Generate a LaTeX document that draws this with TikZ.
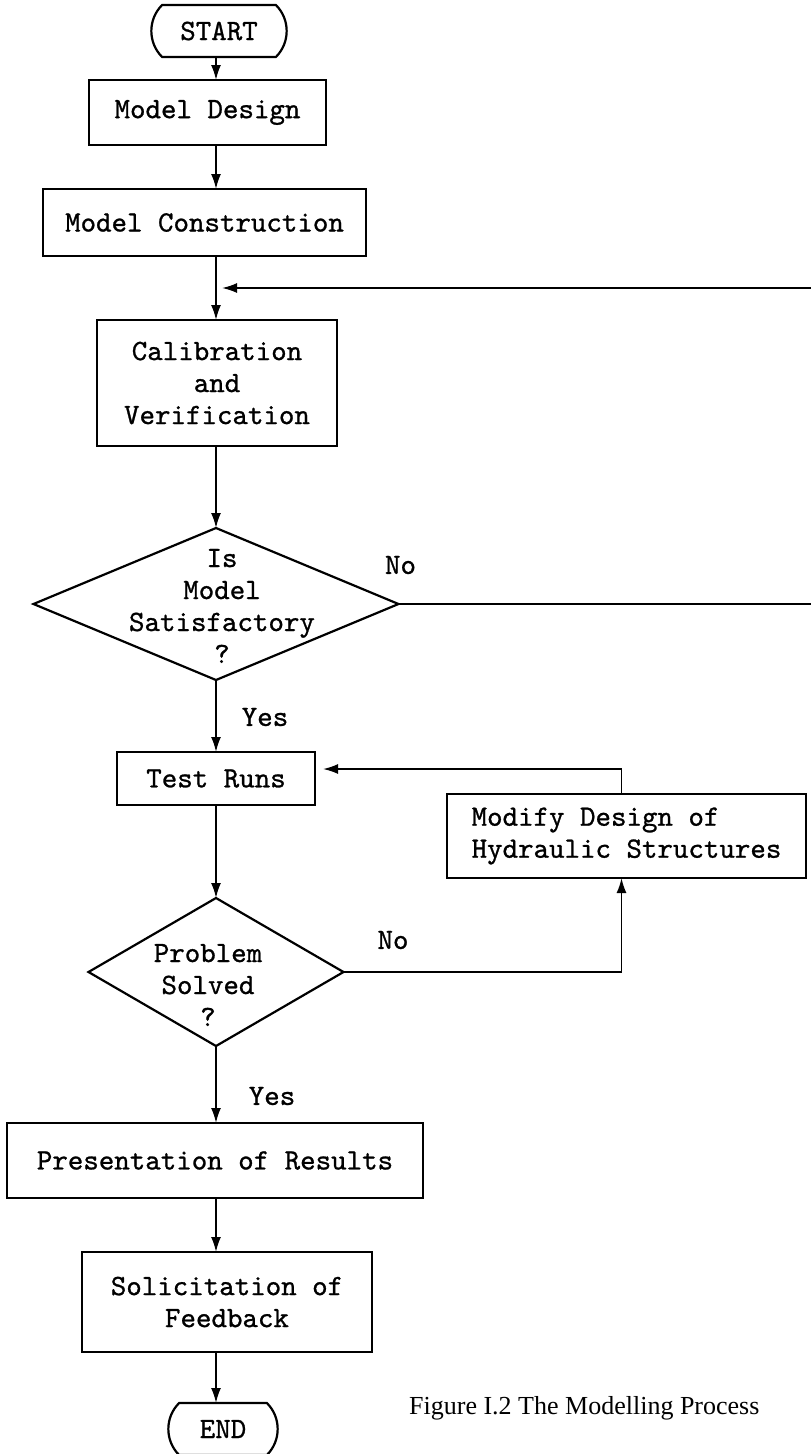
\documentclass[tikz,border=0pt]{standalone}
\usepackage{fontspec}
\usetikzlibrary{positioning,shapes.geometric,shapes.misc,arrows.meta}
\newfontfamily\captionserif{Liberation Serif}
\newfontfamily\flowtt{lmmono10-regular.otf}[FakeBold=0.9]
\newcommand{\flowfont}{\flowtt\fontsize{29.5}{32}\selectfont}

\begin{document}
\begin{tikzpicture}[
    x=1pt, y=1pt,
    every node/.style={font=\flowfont},
    box/.style={draw, line width=2.2pt, outer sep=0pt, inner sep=4pt, align=center},
    terminal/.style={draw, line width=2.2pt, outer sep=0pt, rounded rectangle, rounded rectangle arc length=90, minimum height=52pt},
    decision/.style={draw, line width=2.2pt, outer sep=0pt, diamond},
    arrow/.style={line width=1.8pt,->,>={Latex[length=15pt,width=10pt]}}
  ]
  \useasboundingbox (0,0) rectangle (811,-1454);
  \coordinate (spine) at (216,0);

  % Nodes down the main column
  \node (start) [terminal, minimum width=142pt] at (219,-31) {START};
  \node (design) [box, below=23pt of start, xshift=-11.5pt, minimum width=237pt, minimum height=65pt] {Model Design};
  \node (construct) [box, below=44pt of design, xshift=-3pt, minimum width=323pt, minimum height=67pt] {Model Construction};
  \node (calib) [box, below=64pt of construct, xshift=12.5pt, minimum width=240pt, minimum height=126pt] {Calibration\\and\\Verification};
  \node (sat) [decision, below=82pt of calib, xshift=-1pt, minimum width=365pt, minimum height=152pt] {};
  \node (satq) [align=center] at ([xshift=6pt,yshift=-2pt]sat.center) {Is\\Model\\Satisfactory\\?};
  \node (test) [box, below=72pt of sat, minimum width=198pt, minimum height=53pt] {Test Runs};
  \node (solved) [decision, below=93pt of test, minimum width=255pt, minimum height=148pt] {};
  \node (solvedq) [align=center] at ([xshift=-8pt,yshift=-13pt]solved.center) {Problem\\Solved\\?};
  \node (present) [box, below=77pt of solved, xshift=-1pt, minimum width=416pt, minimum height=75pt] {Presentation of Results};
  \node (feedback) [box, below=54pt of present, xshift=12pt, minimum width=290pt, minimum height=100pt] {Solicitation of\\Feedback};
  \node (finish) [terminal, below=51pt of feedback, xshift=-4pt, minimum width=116pt] {END};

  % Side box and caption
  \node (modify) [box, align=left, right=132pt of test, yshift=-57.5pt, minimum width=359pt, minimum height=84pt] {Modify Design of\\Hydraulic Structures};
  \node (caption) [right=128pt of finish, yshift=21pt, font=\captionserif\fontsize{26}{30}\selectfont] {Figure I.2 The Modelling Process};

  % Branch labels
  \node (nosat) at ([xshift=2pt,yshift=39pt]sat.east) {No};
  \node (yessat) at ([xshift=49pt,yshift=-37pt]sat.south) {Yes};
  \node (nosolved) at ([xshift=49.5pt,yshift=32pt]solved.east) {No};
  \node (yessolved) at ([xshift=56pt,yshift=-50pt]solved.south) {Yes};

  % Arrows down the column
  \draw[arrow] (start.south -| spine) -- (design.north -| spine);
  \draw[arrow] (design.south -| spine) -- (construct.north -| spine);
  \draw[arrow] (construct.south -| spine) -- (calib.north -| spine);
  \draw[arrow] (calib.south -| spine) -- (sat.north);
  \draw[arrow] (sat.south) -- (test.north -| spine);
  \draw[arrow] (test.south -| spine) -- (solved.north);
  \draw[arrow] (solved.south) -- (present.north -| spine);
  \draw[arrow] (present.south -| spine) -- (feedback.north -| spine);
  \draw[arrow] (feedback.south -| spine) -- (finish.north -| spine);

  % Loop back to calibration
  \coordinate (rejoin) at (222,-288);
  \coordinate (rail) at (820,0);
  \draw[arrow] (sat.east) -| (rail |- rejoin) -- (rejoin);

  % Loop through design changes
  \draw[arrow] (solved.east) -| ([xshift=-5pt]modify.south);
  \draw[arrow] ([xshift=-5pt]modify.north) |- ([xshift=8pt,yshift=9.5pt]test.east);
\end{tikzpicture}
\end{document}
